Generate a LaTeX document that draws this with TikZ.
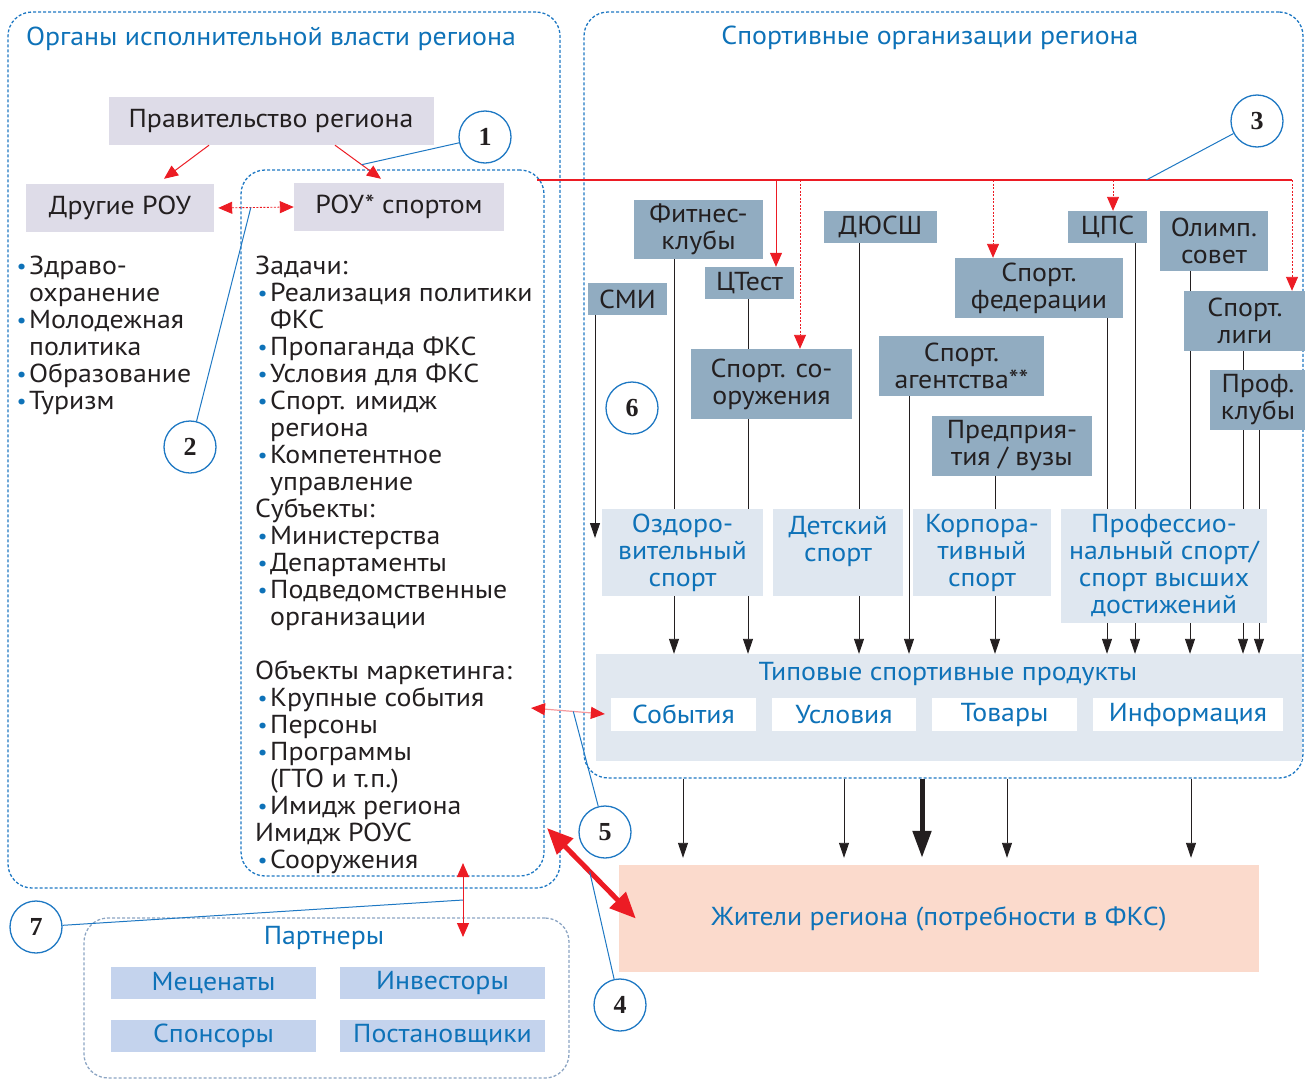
\documentclass[tikz,border=0pt]{standalone}
\usepackage{fontspec}
\setmainfont{PT Sans}[FakeStretch=1.07]
\newfontfamily\numfont{Liberation Serif}
\usepackage{xcolor}
\usepackage{graphicx}
\usepackage{tikz}
\usetikzlibrary{
    positioning,
    arrows.meta,
    calc
}
\definecolor{frameBlue}{RGB}{30, 120, 195}
\definecolor{textBlue}{RGB}{14, 114, 184}
\definecolor{partGray}{RGB}{140, 165, 195}
\definecolor{govFill}{RGB}{222, 220, 232}
\definecolor{orgFill}{RGB}{145, 172, 193}
\definecolor{kindFill}{RGB}{223, 231, 240}
\definecolor{prodFill}{RGB}{225, 232, 240}
\definecolor{resFill}{RGB}{251, 218, 204}
\definecolor{partFill}{RGB}{196, 211, 237}
\definecolor{signalRed}{RGB}{236, 28, 36}
\definecolor{inkBlack}{RGB}{35, 31, 32}

\newcommand{\bul}{\makebox[15pt][c]{\textcolor{textBlue}{\raisebox{1pt}{\scalebox{0.8}{\textbullet}}}}}
\newcommand{\ind}{\hspace*{15pt}}

\begin{document}
\begin{tikzpicture}[x=1pt, y=-1pt,
    font=\fontsize{26}{27}\selectfont, text=inkBlack,
    frame/.style={draw=frameBlue, line width=1.3pt, dash pattern=on 3pt off 2pt, rounded corners=24pt, inner sep=0pt},
    govbox/.style={fill=govFill, inner sep=0pt, align=center, minimum height=48pt},
    orgbox/.style={fill=orgFill, inner sep=0pt, align=center},
    kindbox/.style={fill=kindFill, text=textBlue, inner sep=0pt, align=center},
    prodbox/.style={fill=white, text=textBlue, inner sep=0pt, minimum height=33pt},
    partbox/.style={fill=partFill, text=textBlue, inner sep=0pt, minimum width=205pt, minimum height=32pt},
    numcirc/.style={circle, draw=frameBlue, line width=1.3pt, fill=white, minimum size=52pt, inner sep=0pt, font=\fontsize{26}{27}\numfont\bfseries},
    callout/.style={draw=frameBlue, line width=1pt},
    redtip/.style={-{Triangle[length=14pt,width=12pt]}},
    redarr/.style={signalRed, line width=1pt, redtip},
    reddot/.style={signalRed, line width=0.9pt, dash pattern=on 2pt off 1.5pt, redtip},
    blk/.style={inkBlack, line width=0.9pt},
    blkarr/.style={blk, -{Triangle[length=15pt,width=10pt]}}
]
\useasboundingbox (0,0) rectangle (1305,1079);

% рамки
\node[frame, minimum width=552pt, minimum height=876pt] (govBox) at (284,450) {};
\node[frame, minimum width=303pt, minimum height=706pt] (rouBox) at (392.5,523) {};
\node[frame, minimum width=719pt, minimum height=766pt] (orgsBox) at (943.5,395) {};
\node[frame, draw=partGray, minimum width=485pt, minimum height=160pt] (partBox) at (326.5,998) {};

\node[text=textBlue, anchor=base] (govTitle) at (271,45) {Органы исполнительной власти региона};
\node[text=textBlue, anchor=base] (orgsTitle) at (930,44) {Спортивные организации региона};

% органы власти
\node[govbox, minimum width=325pt] (gov) at (271,121) {Правительство региона};
\node[govbox, minimum width=188pt] (other) at (120,208) {Другие РОУ};
\node[govbox, minimum width=210pt] (rousp) at (399,207) {РОУ* спортом};

\node[anchor=north west, inner sep=0pt, align=left] (govList) at (14,256)
    {\bul Здраво-\\ \ind охранение\\ \bul Молодежная\\ \ind политика\\ \bul Образование\\ \bul Туризм};

\node[anchor=north west, inner sep=0pt, align=left] (rouList) at (255,256)
    {Задачи:\\ \bul Реализация политики\\ \ind ФКС\\ \bul Пропаганда ФКС\\ \bul Условия для ФКС\\
     \bul Спорт. имидж\\ \ind региона\\ \bul Компетентное\\ \ind управление\\
     Субъекты:\\ \bul Министерства\\ \bul Департаменты\\ \bul Подведомственные\\ \ind организации\\[27pt]
     Объекты маркетинга:\\ \bul Крупные события\\ \bul Персоны\\ \bul Программы\\ \ind (ГТО и т.п.)\\
     \bul Имидж региона\\ Имидж РОУС\\ \bul Сооружения};

% спортивные организации
\node[orgbox, minimum width=129pt, minimum height=59pt] (fitnes) at (698.5,229.5) {Фитнес-\\клубы};
\node[orgbox, minimum width=79pt, minimum height=32pt] (smi) at (627.5,299) {СМИ};
\node[orgbox, minimum width=89pt, minimum height=32pt] (ctest) at (749.5,283) {ЦТест};
\node[orgbox, minimum width=161pt, minimum height=70pt] (soor) at (771.5,384) {Спорт. со-\\оружения};
\node[orgbox, minimum width=113pt, minimum height=32pt] (dyussh) at (880.5,227) {ДЮСШ};
\node[orgbox, minimum width=165pt, minimum height=60pt] (agent) at (961.5,366) {Спорт.\\агентства**};
\node[orgbox, minimum width=160pt, minimum height=60pt] (pred) at (1012,446) {Предприя-\\тия / вузы};
\node[orgbox, minimum width=168pt, minimum height=60pt] (feder) at (1039,288) {Спорт.\\федерации};
\node[orgbox, minimum width=79pt, minimum height=32pt] (cps) at (1107.5,227) {ЦПС};
\node[orgbox, minimum width=108pt, minimum height=60pt] (olimp) at (1214,241) {Олимп.\\совет};
\node[orgbox, minimum width=122pt, minimum height=60pt] (ligi) at (1245,321) {Спорт.\\лиги};
\node[orgbox, minimum width=96pt, minimum height=60pt] (profkl) at (1258,400) {Проф.\\клубы};

% виды спорта
\node[kindbox, minimum width=161pt, minimum height=87pt] (ozd) at (682.5,552.5) {Оздоро-\\вительный\\спорт};
\node[kindbox, minimum width=130pt, minimum height=87pt] (det) at (838,552.5) {Детский\\спорт\\ \mbox{}};
\node[kindbox, minimum width=138pt, minimum height=87pt] (korp) at (982,552.5) {Корпора-\\тивный\\спорт};
\node[kindbox, minimum width=206pt, minimum height=114pt] (prof) at (1164,566) {Профессио-\\нальный спорт/\\спорт высших\\достижений};

% продукты
\node[fill=prodFill, minimum width=706pt, minimum height=107pt, inner sep=0pt] (prod) at (949,707.5) {};
\node[text=textBlue, anchor=base] (prodTitle) at (948,680) {Типовые спортивные продукты};
\node[prodbox, minimum width=145pt] (events) at (683.5,714.5) {События};
\node[prodbox, minimum width=144pt] (conds) at (844,714.5) {Условия};
\node[prodbox, minimum width=145pt] (goods) at (1004.5,714.5) {Товары};
\node[prodbox, minimum width=190pt] (info) at (1188,714.5) {Информация};

\node[fill=resFill, text=textBlue, minimum width=640pt, minimum height=107pt, inner sep=0pt] (res) at (939,918.5) {Жители региона (потребности в ФКС)};

% партнеры
\node[text=textBlue, anchor=base] (partTitle) at (324,944) {Партнеры};
\node[partbox] (patrons) at (213.5,983) {Меценаты};
\node[partbox] (investors) at (442.5,983) {Инвесторы};
\node[partbox] (sponsors) at (213.5,1035.5) {Спонсоры};
\node[partbox] (producers) at (442.5,1035.5) {Постановщики};

% красные связи
\draw[redarr] ([xshift=-62pt]gov.south) -- ([xshift=44pt,yshift=5pt]other.north);
\draw[redarr] ([xshift=64pt]gov.south) -- coordinate[pos=0.58] (m1) ([xshift=-18pt,yshift=4pt]rousp.north);
\draw[reddot, {Triangle[length=14pt,width=12pt]}-{Triangle[length=14pt,width=12pt]}, shorten <=4pt]
    (other.east) -- coordinate[pos=0.46] (m2) (rousp.west);

\coordinate (redL) at (537,180);
\coordinate (redR) at (1292,180);
\draw[signalRed, line width=1.2pt] (redL) -- coordinate[pos=0.807] (m3) (redR);
\draw[redarr] (redL -| 776,0) -- (ctest.north -| 776,0);
\foreach \x/\dst in {800/soor, 993/feder, 1113/cps, 1292/ligi}
    \draw[reddot] (redL -| \x,0) -- (\dst.north -| \x,0);

% связи организаций
\foreach \x/\src/\dst in {674/fitnes/ozd, 748/ctest/soor, 748/soor/ozd, 859/dyussh/det, 995/pred/korp,
        1107/feder/prof, 1135/cps/prof, 1190/olimp/ligi, 1190/ligi/prof, 1243/ligi/profkl,
        1243/profkl/prof, 1259/profkl/prof}
    \draw[blk] (\src.south -| \x,0) -- (\dst.north -| \x,0);
\foreach \x/\src in {674/ozd, 748/ozd, 859/det, 909/agent, 995/korp, 1107/prof, 1135/prof,
        1190/prof, 1243/prof, 1259/prof}
    \draw[blkarr] (\src.south -| \x,0) -- (prod.north -| \x,0);
\coordinate (smiEnd) at (595,538);
\draw[blkarr] (smi.south -| smiEnd) -- (smiEnd);

% к жителям
\foreach \x in {683, 844, 1007, 1191}
    \draw[blkarr, shorten >=7pt] (orgsBox.south -| \x,0) -- (res.north -| \x,0);
\draw[inkBlack, line width=5pt, -{Triangle[length=27pt,width=18pt]}, shorten >=7pt]
    (orgsBox.south -| 922,0) -- (res.north -| 922,0);

\coordinate (objR) at (531,708);
\draw[signalRed!45, line width=1.2pt,
    {Triangle[length=14pt,width=12pt,color=signalRed]}-{Triangle[length=14pt,width=12pt,color=signalRed]},
    shorten >=6pt] (objR) -- coordinate[pos=0.53] (m5) (events.west);

\coordinate (thickS) at (547,828);
\draw[signalRed, line width=5pt, {Triangle[length=26pt,width=22pt]}-{Triangle[length=26pt,width=22pt]}]
    (thickS) -- coordinate[pos=0.48] (m4) ([xshift=17pt]res.west);

\coordinate (vTop) at (463,863);
\coordinate (vBot) at (463,937);
\draw[signalRed, line width=1pt, {Triangle[length=14pt,width=12pt]}-{Triangle[length=14pt,width=12pt]}]
    (vTop) -- coordinate[pos=0.5] (m7) (vBot);

% номера
\node[numcirc] (c1) at (485,137) {1};
\node[numcirc] (c2) at (190,447) {2};
\node[numcirc] (c3) at (1257,121) {3};
\node[numcirc] (c4) at (620,1005) {4};
\node[numcirc] (c5) at (605,832) {5};
\node[numcirc] (c6) at (632,408) {6};
\node[numcirc] (c7) at (36,927) {7};
\draw[callout] (c1) -- (m1);
\draw[callout] (c2) -- (m2);
\draw[callout] (c3) -- (m3);
\draw[callout] (c4) -- (m4);
\draw[callout] (c5) -- (m5);
\draw[callout] (c7) -- (m7);
\end{tikzpicture}
\end{document}
